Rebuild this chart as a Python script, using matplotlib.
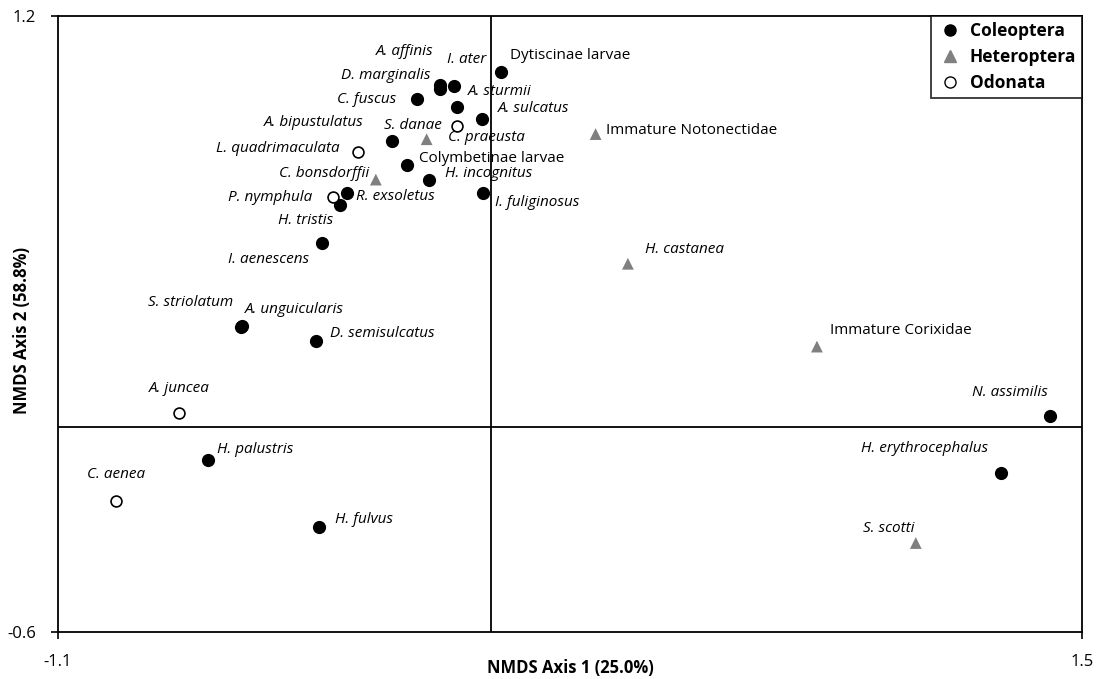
"""
NMDS ordination of aquatic invertebrate taxa (Coleoptera, Heteroptera, Odonata).
"""

import matplotlib
matplotlib.use("Agg")
import matplotlib.pyplot as plt
from matplotlib.lines import Line2D


# =============================================================================
# Data
# =============================================================================

coleoptera_names = [
    "Dytiscinae larvae", "A. affinis", "D. marginalis", "I. ater", "C. fuscus",
    "A. sturmii", "A. sulcatus", "A. bipustulatus", "Colymbetinae larvae",
    "H. incognitus", "I. fuliginosus", "R. exsoletus", "H. tristis",
    "I. aenescens", "S. striolatum", "A. unguicularis", "D. semisulcatus",
    "H. palustris", "H. fulvus", "N. assimilis", "H. erythrocephalus",
]
coleoptera_x = [
    0.025, -0.130, -0.130, -0.095, -0.189,
    -0.086, -0.024, -0.251, -0.215,
    -0.157, -0.020, -0.367, -0.384,
    -0.429, -0.636, -0.634, -0.446,
    -0.719, -0.437, 1.419, 1.294,
]
coleoptera_y = [
    1.036, 0.998, 0.987, 0.996, 0.957,
    0.935, 0.898, 0.836, 0.765,
    0.721, 0.684, 0.684, 0.648,
    0.536, 0.292, 0.294, 0.250,
    -0.097, -0.292, 0.031, -0.134,
]

heteroptera_names = [
    "S. danae", "C. bonsdorffii", "Immature Notonectidae", "H. castanea",
    "Immature Corixidae", "S. scotti",
]
heteroptera_x = [-0.164, -0.293, 0.265, 0.347, 0.827, 1.078]
heteroptera_y = [0.840, 0.722, 0.855, 0.476, 0.234, -0.340]

odonata_names = [
    "C. praeusta", "L. quadrimaculata", "P. nymphula", "A. juncea", "C. aenea",
]
odonata_x = [-0.086, -0.338, -0.401, -0.793, -0.952]
odonata_y = [0.879, 0.802, 0.670, 0.041, -0.216]

# non-italic (group-level) labels
plain_labels = {
    "Dytiscinae larvae", "Colymbetinae larvae",
    "Immature Notonectidae", "Immature Corixidae",
}


# =============================================================================
# Label placement (pixel offsets from marker, horizontal alignment)
# =============================================================================

label_offsets = {
    "Dytiscinae larvae": (9, 17, "left"),
    "A. affinis": (-7, 34, "right"),
    "I. ater": (13, 26, "center"),
    "D. marginalis": (-10, 13, "right"),
    "C. fuscus": (-21, 0, "right"),
    "A. sturmii": (10, 15, "left"),
    "A. sulcatus": (16, 11, "left"),
    "C. praeusta": (-9, -12, "left"),
    "S. danae": (-14, 14, "center"),
    "A. bipustulatus": (-29, 18, "right"),
    "L. quadrimaculata": (-18, 4, "right"),
    "Colymbetinae larvae": (12, 6, "left"),
    "C. bonsdorffii": (-7, 6, "right"),
    "H. incognitus": (16, 6, "left"),
    "I. fuliginosus": (12, -10, "left"),
    "R. exsoletus": (9, -4, "left"),
    "P. nymphula": (-21, 0, "right"),
    "H. tristis": (-7, -16, "right"),
    "I. aenescens": (-13, -16, "right"),
    "S. striolatum": (-8, 24, "right"),
    "A. unguicularis": (3, 17, "left"),
    "D. semisulcatus": (14, 8, "left"),
    "A. juncea": (0, 24, "center"),
    "H. palustris": (9, 10, "left"),
    "C. aenea": (0, 26, "center"),
    "H. fulvus": (16, 7, "left"),
    "Immature Notonectidae": (10, 4, "left"),
    "H. castanea": (17, 14, "left"),
    "Immature Corixidae": (13, 16, "left"),
    "N. assimilis": (-2, 24, "right"),
    "H. erythrocephalus": (-13, 24, "right"),
    "S. scotti": (-1, 15, "right"),
}


# =============================================================================
# Visualization
# =============================================================================

plt.rcParams["font.family"] = ["Open Sans", "DejaVu Sans"]

DPI = 100
fig = plt.figure(figsize=(11.06, 6.79), dpi=DPI)
ax = fig.add_axes([58 / 1106, 1 - 632 / 679, 1024 / 1106, 616 / 679])

ms = 72

ax.axvline(0, color="black", linewidth=1.3, zorder=1)
ax.axhline(0, color="black", linewidth=1.3, zorder=1)

ax.scatter(coleoptera_x, coleoptera_y, s=ms, marker="o",
           color="black", zorder=3)
ax.scatter(heteroptera_x, heteroptera_y, s=ms, marker="^",
           color="#808080", edgecolors="none", zorder=3)
ax.scatter(odonata_x, odonata_y, s=ms * 0.85, marker="o",
           facecolors="white", edgecolors="black", linewidths=1.2, zorder=3)

px_to_pt = 72 / DPI
for names, xs, ys in [
    (coleoptera_names, coleoptera_x, coleoptera_y),
    (heteroptera_names, heteroptera_x, heteroptera_y),
    (odonata_names, odonata_x, odonata_y),
]:
    for name, xv, yv in zip(names, xs, ys):
        dx, dy, ha = label_offsets[name]
        ax.annotate(
            name,
            (xv, yv),
            xytext=(dx * px_to_pt, dy * px_to_pt),
            textcoords="offset points",
            ha=ha,
            va="center",
            fontsize=11,
            style="normal" if name in plain_labels else "italic",
            zorder=4,
        )

ax.set_xlim(-1.1, 1.5)
ax.set_ylim(-0.6, 1.2)
ax.set_xticks([-1.1, 1.5])
ax.set_xticklabels(["-1.1", "1.5"])
ax.set_yticks([-0.6, 1.2])
ax.set_yticklabels(["-0.6", "1.2"])
ax.tick_params(direction="out", length=5, width=1.2, labelsize=12, pad=11)

for spine in ax.spines.values():
    spine.set_linewidth(1.3)

ax.set_xlabel("NMDS Axis 1 (25.0%)", fontsize=12, fontweight="bold", va="center")
ax.xaxis.set_label_coords(0.5, -36 / 616)
ax.set_ylabel("NMDS Axis 2 (58.8%)", fontsize=12, fontweight="bold", va="center")
ax.yaxis.set_label_coords(-36 / 1024, 0.49)

handles = [
    Line2D([], [], marker="o", linestyle="none", color="black",
           markersize=8, label="Coleoptera"),
    Line2D([], [], marker="^", linestyle="none", color="#808080",
           markersize=8, label="Heteroptera"),
    Line2D([], [], marker="o", linestyle="none", markerfacecolor="white",
           markeredgecolor="black", markersize=8, label="Odonata"),
]
legend = ax.legend(
    handles=handles,
    loc="upper right",
    borderaxespad=0,
    frameon=True,
    fancybox=False,
    edgecolor="black",
    borderpad=0.35,
    handletextpad=0.45,
    handlelength=1.4,
    labelspacing=0.45,
    prop={"weight": "bold", "size": 12.5},
)
legend.get_frame().set_linewidth(1.3)

fig.savefig("out.png", dpi=DPI)
